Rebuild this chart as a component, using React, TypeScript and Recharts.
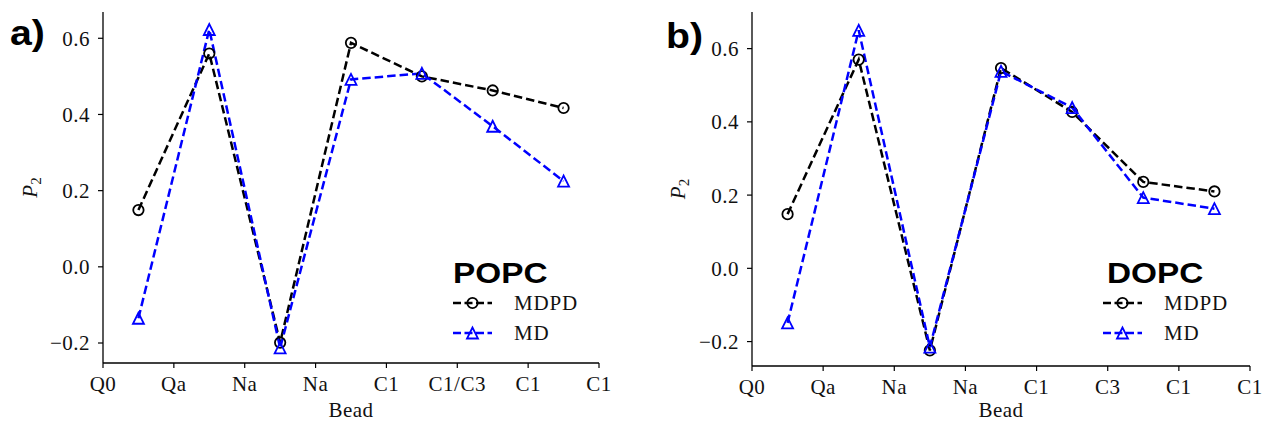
import React from 'react';
import { LineChart, Line, XAxis, YAxis } from 'recharts';

const beadPositions = [0.5, 1.5, 2.5, 3.5, 4.5, 5.5, 6.5];
const tickPositions = [0, 1, 2, 3, 4, 5, 6, 7];
const beadLabelsPOPC = ['Q0', 'Qa', 'Na', 'Na', 'C1', 'C1/C3', 'C1', 'C1'];
const beadLabelsDOPC = ['Q0', 'Qa', 'Na', 'Na', 'C1', 'C3', 'C1', 'C1'];
const popcMDPD = [0.149, 0.56, -0.199, 0.588, 0.5, 0.463, 0.417];
const popcMD = [-0.135, 0.623, -0.213, 0.492, 0.508, 0.369, 0.225];
const dopcMDPD = [0.148, 0.57, -0.224, 0.547, 0.427, 0.236, 0.21];
const dopcMD = [-0.149, 0.65, -0.215, 0.538, 0.439, 0.193, 0.163];
const yTicks = [-0.2, 0, 0.2, 0.4, 0.6];

const SERIF = '"Liberation Serif", "Times New Roman", serif';
const SANS = '"Liberation Sans", Arial, sans-serif';
const BLUE = '#0000ff';
const DASH = '8.5 4';
const LW = 2.5;

const fmtY = (v: number) => (v < 0 ? '\u2212' + Math.abs(v).toFixed(1) : v.toFixed(1));

const circleDot = (props: any) => {
  const { cx, cy, index } = props;
  if (cx == null || cy == null) return <g key={'c' + index} />;
  return <circle key={'c' + index} cx={cx} cy={cy} r={5.2} fill="none" stroke="#000" strokeWidth={1.8} />;
};

const triPoints = (cx: number, cy: number, s: number) =>
  `${cx},${cy - s} ${cx - s},${cy + s} ${cx + s},${cy + s}`;

const triDot = (props: any) => {
  const { cx, cy, index } = props;
  if (cx == null || cy == null) return <g key={'t' + index} />;
  return <polygon key={'t' + index} points={triPoints(cx, cy, 5.5)} fill="none" stroke={BLUE} strokeWidth={1.8} />;
};

type PanelProps = {
  labels: string[];
  mdpd: number[];
  md: number[];
  width: number;
  yAxisWidth: number;
  marginRight: number;
  xAxisHeight: number;
  yDomain: [number, number];
  labelX: number;
};

function Panel({ labels, mdpd, md, width, yAxisWidth, marginRight, xAxisHeight, yDomain, labelX }: PanelProps) {
  const data = beadPositions.map((x, i) => ({ x, mdpd: mdpd[i], md: md[i] }));
  const tickStyle = { fontFamily: SERIF, fontSize: 21, fill: '#111', letterSpacing: 0.5 };
  return (
    <LineChart width={width} height={424} data={data} margin={{ top: 12, right: marginRight, left: 0, bottom: 0 }}>
      <XAxis
        dataKey="x"
        type="number"
        domain={[0, 7]}
        ticks={tickPositions}
        interval={0}
        allowDataOverflow
        tickFormatter={(v: number) => labels[v] ?? ''}
        height={xAxisHeight}
        tickSize={5}
        tickMargin={8}
        tick={tickStyle}
        axisLine={{ stroke: '#000', strokeWidth: 1.3 }}
        tickLine={{ stroke: '#000', strokeWidth: 1.2 }}
        label={{ value: 'Bead', position: 'insideBottom', offset: 7, style: { fontFamily: SERIF, fontSize: 21, fill: '#111', letterSpacing: 0.5 } }}
      />
      <XAxis
        xAxisId="top"
        orientation="top"
        dataKey="x"
        type="number"
        domain={[0, 7]}
        height={0}
        tick={false}
        tickLine={false}
        axisLine={{ stroke: '#000', strokeWidth: 1.3 }}
      />
      <YAxis
        type="number"
        domain={yDomain}
        ticks={yTicks}
        allowDataOverflow
        width={yAxisWidth}
        tickFormatter={fmtY}
        tickSize={5}
        tickMargin={8}
        tick={tickStyle}
        axisLine={{ stroke: '#000', strokeWidth: 1.3 }}
        tickLine={{ stroke: '#000', strokeWidth: 1.2 }}
        label={{
          value: 'P2',
          content: (p: any) => {
            const vb = p.viewBox || { y: 12, height: 351 };
            const cy = vb.y + vb.height / 2;
            return (
              <text
                x={labelX}
                y={cy}
                transform={`rotate(-90, ${labelX}, ${cy})`}
                textAnchor="middle"
                fontFamily={SERIF}
                fontSize={21}
                fill="#111"
              >
                <tspan fontStyle="italic">P</tspan>
                <tspan fontSize={15} dy={4}>2</tspan>
              </text>
            );
          },
        }}
      />
      <YAxis
        yAxisId="right"
        orientation="right"
        type="number"
        domain={yDomain}
        width={0}
        tick={false}
        tickLine={false}
        axisLine={{ stroke: '#000', strokeWidth: 1.3 }}
      />
      <Line
        type="linear"
        dataKey="mdpd"
        stroke="#000"
        strokeWidth={LW}
        strokeDasharray={DASH}
        dot={circleDot}
        activeDot={false}
        isAnimationActive={false}
      />
      <Line
        type="linear"
        dataKey="md"
        stroke={BLUE}
        strokeWidth={LW}
        strokeDasharray={DASH}
        dot={triDot}
        activeDot={false}
        isAnimationActive={false}
      />
    </LineChart>
  );
}

function LegendBlock({ x, title, titleX }: { x: number; title: string; titleX: number }) {
  const mid = x + 19.5;
  return (
    <g>
      <text transform={`translate(${titleX},283) scale(1.15,1)`} fontFamily={SANS} fontWeight="bold" fontSize={29} fill="#000">{title}</text>
      <line x1={x} y1={303} x2={x + 39} y2={303} stroke="#000" strokeWidth={LW} strokeDasharray="8 3.5" />
      <circle cx={mid} cy={303} r={5.2} fill="none" stroke="#000" strokeWidth={1.8} />
      <text x={x + 61} y={310} fontFamily={SERIF} fontSize={21} letterSpacing={0.8} fill="#111">MDPD</text>
      <line x1={x} y1={333} x2={x + 39} y2={333} stroke={BLUE} strokeWidth={LW} strokeDasharray="8 3.5" />
      <polygon points={triPoints(mid, 333, 5.5)} fill="none" stroke={BLUE} strokeWidth={1.8} />
      <text x={x + 61} y={340} fontFamily={SERIF} fontSize={21} letterSpacing={0.8} fill="#111">MD</text>
    </g>
  );
}

export default function App() {
  return (
    <div style={{ position: 'absolute', left: 0, top: 0, width: 1263, height: 424, background: '#fff' }}>
      <div style={{ position: 'absolute', left: 0, top: 0 }}>
        <Panel
          labels={beadLabelsPOPC}
          mdpd={popcMDPD}
          md={popcMD}
          width={640}
          yAxisWidth={103}
          marginRight={41}
          xAxisHeight={61}
          yDomain={[-0.2525, 0.669]}
          labelX={37}
        />
      </div>
      <div style={{ position: 'absolute', left: 640, top: 0 }}>
        <Panel
          labels={beadLabelsDOPC}
          mdpd={dopcMDPD}
          md={dopcMD}
          width={623}
          yAxisWidth={112}
          marginRight={13}
          xAxisHeight={58}
          yDomain={[-0.2667, 0.7]}
          labelX={45}
        />
      </div>
      <svg width={1263} height={424} style={{ position: 'absolute', left: 0, top: 0, pointerEvents: 'none' }}>
        <text transform="translate(10,45) scale(1.12,1)" fontFamily={SANS} fontWeight="bold" fontSize={35} fill="#000">a)</text>
        <text transform="translate(666,48) scale(1.12,1)" fontFamily={SANS} fontWeight="bold" fontSize={35} fill="#000">b)</text>
        <LegendBlock x={453} title="POPC" titleX={453} />
        <LegendBlock x={1103} title="DOPC" titleX={1107} />
      </svg>
    </div>
  );
}
